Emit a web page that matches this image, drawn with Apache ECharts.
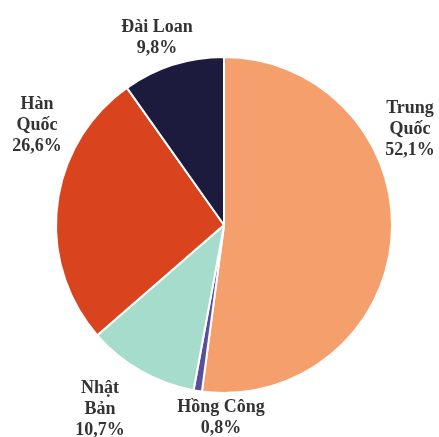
<!DOCTYPE html>
<html>
<head>
<meta charset="utf-8">
<script src="https://cdn.jsdelivr.net/npm/echarts@6/dist/echarts.min.js"></script>
<style>
html, body { margin: 0; padding: 0; background: #fff; }
#chart { width: 439px; height: 437px; }
</style>
</head>
<body>
<div id="chart"></div>
<script>
// danh mục và tỷ trọng (%)
var categories = ['Trung Quốc', 'Hồng Công', 'Nhật Bản', 'Hàn Quốc', 'Đài Loan'];
var labelNames = ['Trung\nQuốc', 'Hồng Công', 'Nhật\nBản', 'Hàn\nQuốc', 'Đài Loan'];
var shares = [52.1, 0.8, 10.7, 26.6, 9.8];

// màu của từng phần
var sliceColors = ['#f59f6c', '#5a4d9c', '#a6dccb', '#d9441f', '#1c1b3d'];
// vị trí nhãn (tâm khối chữ)
var labelPos = [[410, 129], [221, 418], [100, 409], [37, 125], [157, 38]];

var pieData = [];
for (var i = 0; i < categories.length; i++) {
    pieData.push({
        name: categories[i],
        value: shares[i],
        itemStyle: { color: sliceColors[i] }
    });
}

var myChart = echarts.init(document.getElementById('chart'));
myChart.setOption({
    animation: false,
    series: [{
        type: 'pie',
        center: [224, 225],
        radius: [0, 168],
        startAngle: 90,
        clockwise: true,
        data: pieData,
        itemStyle: {
            borderColor: '#ffffff',
            borderWidth: 2
        },
        label: {
            show: true,
            position: 'inside',
            formatter: function (p) {
                return labelNames[p.dataIndex] + '\n' + String(p.value).replace('.', ',') + '%';
            },
            fontFamily: '"Liberation Serif", "DejaVu Serif", serif',
            fontWeight: 'bold',
            fontSize: 18,
            lineHeight: 21,
            color: '#333333',
            align: 'center',
            verticalAlign: 'middle'
        },
        labelLine: { show: false },
        labelLayout: function (params) {
            var p = labelPos[params.dataIndex];
            return {
                x: p[0],
                y: p[1],
                align: 'center',
                verticalAlign: 'middle',
                hideOverlap: false
            };
        },
        emphasis: { disabled: true }
    }]
});
</script>
</body>
</html>
